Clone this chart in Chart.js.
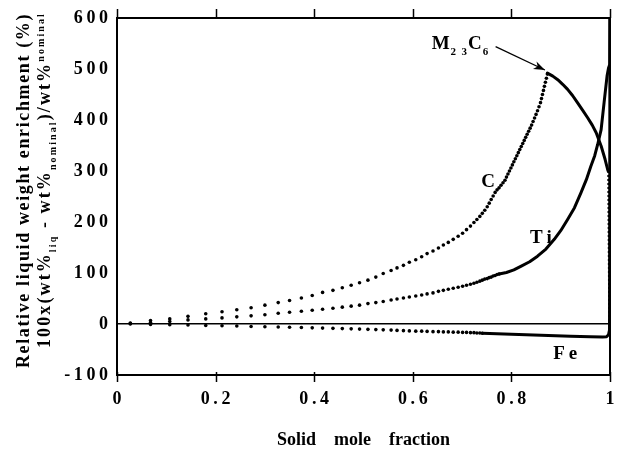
<!DOCTYPE html>
<html><head><meta charset="utf-8">
<script src="https://cdn.jsdelivr.net/npm/chart.js@4.4.1/dist/chart.umd.min.js"></script>
<style>html,body{margin:0;padding:0;background:#fff;}</style>
</head><body>
<canvas id="c" width="619" height="452"></canvas>
<script>
// ---- data ----
const xTickValues = [0, 0.2, 0.4, 0.6, 0.8, 1];
const yTickValues = [-100, 0, 100, 200, 300, 400, 500, 600];

// C : dotted part (liquid only), then solid after M23C6 forms, then dotted drop
const cDotX = [0.027,0.068,0.107,0.144,0.180,0.213,0.243,0.272,0.300,0.327,0.350,0.374,0.396,0.417,0.438,0.457,0.475,0.492,0.509,0.525,0.540,0.556,0.568,0.581,0.593,0.606,0.618,0.629,0.641,0.652,0.662,0.672,0.682,0.692,0.701,0.709,0.717,0.724,0.730,0.736,0.741,0.746,0.751,0.755,0.759,0.763,0.767,0.771,0.775,0.779,0.783,0.787,0.790,0.793,0.796,0.799,0.802,0.805,0.808,0.811,0.814,0.817,0.820,0.823,0.826,0.829,0.832,0.835,0.838,0.841,0.844,0.847,0.850,0.853,0.856,0.859,0.861,0.863,0.865,0.867,0.869,0.871,0.873];
const cDotY = [2,7,10,15,20,24,28,32,37,42,46,51,56,62,66,71,76,81,86,92,99,105,110,115,121,126,132,138,143,149,155,160,166,172,178,185,192,199,205,211,217,223,230,237,244,251,258,263,267,272,277,282,288,294,300,306,312,318,324,330,336,342,348,354,360,366,372,378,384,390,397,404,411,418,426,434,442,450,458,466,474,482,490];
const cSolidX = [0.873,0.884,0.894,0.904,0.914,0.924,0.934,0.944,0.955,0.964,0.972,0.982,0.990,0.996];
const cSolidY = [492,486,479,470,460,448,434,420,404,390,375,349,323,300];
const cDropX = [0.997,0.999];
const cDropY = [300,0];

// Ti
const tiDotX = [0.027,0.068,0.107,0.144,0.180,0.213,0.243,0.272,0.300,0.327,0.350,0.374,0.396,0.417,0.438,0.457,0.475,0.492,0.509,0.525,0.540,0.556,0.568,0.581,0.593,0.606,0.618,0.629,0.641,0.652,0.662,0.672,0.682,0.692,0.701,0.709,0.717,0.724,0.730,0.736,0.741,0.746,0.751,0.755,0.759,0.763,0.767,0.771,0.775];
const tiDotY = [1,3,5,8,10,12,14,16,18,21,23,25,27,29,31,33,35,37,40,42,44,47,49,51,53,55,57,59,61,64,66,68,70,72,74,76,78,80,82,84,86,88,89,91,92,94,95,97,98];
const tiSolidX = [0.775,0.790,0.805,0.819,0.837,0.853,0.870,0.887,0.900,0.914,0.928,0.941,0.952,0.961,0.969,0.975,0.982,0.988,0.994,0.997,0.9995,1.0];
const tiSolidY = [98,101,106,113,122,133,147,166,183,205,228,257,283,309,330,352,381,434,486,502,509,620];

// Fe
const feDotX = [0.027,0.068,0.107,0.144,0.180,0.213,0.243,0.272,0.300,0.327,0.350,0.374,0.396,0.417,0.438,0.457,0.475,0.492,0.509,0.525,0.540,0.556,0.568,0.581,0.593,0.606,0.618,0.629,0.641,0.652,0.662,0.672,0.682,0.692,0.701,0.709,0.717,0.724,0.730,0.736,0.741];
const feDotY = [0,-1,-1.5,-2,-3,-3.5,-4,-5,-5.5,-6,-6.5,-7,-7.5,-8,-8.5,-9,-9.5,-10,-10.5,-11,-11.5,-12,-12.5,-13,-13.5,-14,-14,-14.5,-15,-15,-15.5,-15.5,-16,-16,-16.5,-16.5,-17,-17,-17.5,-17.5,-18];
const feSolidX = [0.741,0.800,0.860,0.920,0.960,0.985,0.993,0.997,0.999,1.0];
const feSolidY = [-18,-20,-22,-24,-25,-25.5,-25,-21,-12,620];

// ---- chart ----
const FONT = 'Liberation Serif, Times New Roman, serif';
const spaced = s => s.split('').join('\u2009');
const pts = (xs, ys) => xs.map((v, i) => ({x: v, y: ys[i]}));
const dotStyle = {showLine:false, pointRadius:1.8, pointHoverRadius:1.8, pointBackgroundColor:'#000', pointBorderWidth:0, borderColor:'#000'};
const lineStyle = {showLine:true, pointRadius:0, pointHoverRadius:0, borderColor:'#000', borderWidth:3, tension:0, fill:false, borderJoinStyle:'round', borderCapStyle:'round'};

const annotate = {
  id: 'annotate',
  afterDraw(chart) {
    const ctx = chart.ctx, a = chart.chartArea;
    const xs = chart.scales.x, ys = chart.scales.y;
    ctx.save();
    // frame
    ctx.strokeStyle = '#000'; ctx.lineWidth = 2;
    ctx.strokeRect(a.left, a.top, a.right - a.left, a.bottom - a.top);
    // x tick marks on top and bottom edges
    ctx.lineWidth = 1.5;
    xTickValues.forEach(v => {
      const px = Math.round(xs.getPixelForValue(v)) + 0.5;
      ctx.beginPath(); ctx.moveTo(px, a.top); ctx.lineTo(px, a.top - 9); ctx.stroke();
      ctx.beginPath(); ctx.moveTo(px, a.bottom - 3); ctx.lineTo(px, a.bottom + 7); ctx.stroke();
    });
    ctx.fillStyle = '#000';
    ctx.textBaseline = 'alphabetic';
    const bold = sz => 'bold ' + sz + 'px ' + FONT;
    const P = (x, y) => [xs.getPixelForValue(x), ys.getPixelForValue(y)];
    // series labels
    ctx.font = bold(19); ctx.textAlign = 'center';
    let [lx, ly] = P(0.753, 283); ctx.fillText('C', lx, ly + 7);
    [lx, ly] = P(0.860, 172); ctx.fillText(spaced('Ti'), lx, ly + 7);
    [lx, ly] = P(0.909, -54); ctx.fillText(spaced('Fe'), lx, ly + 7);
    // M23C6 label
    const runs = [['M',19,0],['2',11,6],['\u2009\u20093',11,6],['C',19,0],['6',11,6]];
    ctx.textAlign = 'left';
    let total = 0;
    runs.forEach(r => { ctx.font = bold(r[1]); total += ctx.measureText(r[0]).width + 1; });
    let [mx, my] = P(0.755, 540);
    let cx = mx - total;
    runs.forEach(r => { ctx.font = bold(r[1]); ctx.fillText(r[0], cx, my + r[2]); cx += ctx.measureText(r[0]).width + 1; });
    // arrow to the C peak
    const [ax0, ay0] = P(0.768, 544), [ax1, ay1] = P(0.868, 498);
    ctx.lineWidth = 1.3;
    ctx.beginPath(); ctx.moveTo(ax0, ay0); ctx.lineTo(ax1, ay1); ctx.stroke();
    const ang = Math.atan2(ay1 - ay0, ax1 - ax0);
    ctx.beginPath();
    ctx.moveTo(ax1, ay1);
    ctx.lineTo(ax1 - 12 * Math.cos(ang - 0.35), ay1 - 12 * Math.sin(ang - 0.35));
    ctx.lineTo(ax1 - 8 * Math.cos(ang), ay1 - 8 * Math.sin(ang));
    ctx.lineTo(ax1 - 12 * Math.cos(ang + 0.35), ay1 - 12 * Math.sin(ang + 0.35));
    ctx.closePath(); ctx.fill();
    // y axis title (two lines, rotated)
    const drawRich = (segs, centerX, yBottom, yTop) => {
      ctx.save();
      ctx.translate(centerX, (yBottom + yTop) / 2);
      ctx.rotate(-Math.PI / 2);
      const target = yBottom - yTop;
      let nat = 0, nchar = 0;
      segs.forEach(s => { ctx.font = bold(s[1]); nat += ctx.measureText(s[0]).width; nchar += s[0].length; });
      const ls = Math.max(0, (target - nat) / nchar);
      let x = -target / 2;
      segs.forEach(s => {
        ctx.font = bold(s[1]);
        for (const ch of s[0]) {
          ctx.fillText(ch, x, s[2]);
          x += ctx.measureText(ch).width + ls;
        }
      });
      ctx.restore();
    };
    drawRich([['Relative liquid weight enrichment (%)',18,0]], 29, 368, 13);
    drawRich([['100x(wt%',18,0],['liq',10,6],[' - wt%',18,0],['nominal',10,6],[')/wt%',18,0],['nominal',10,-6]], 50, 348, 12);
    ctx.restore();
  }
};

new Chart(document.getElementById('c'), {
  type: 'scatter',
  data: {
    datasets: [
      {data: pts(cDotX, cDotY), ...dotStyle},
      {data: pts(cSolidX, cSolidY), ...lineStyle},
      {data: pts(cDropX, cDropY), ...lineStyle, borderWidth: 2.5, borderDash: [2, 2], borderCapStyle: 'butt'},
      {data: pts(tiDotX, tiDotY), ...dotStyle},
      {data: pts(tiSolidX, tiSolidY), ...lineStyle},
      {data: pts(feDotX, feDotY), ...dotStyle},
      {data: pts(feSolidX, feSolidY), ...lineStyle}
    ]
  },
  options: {
    responsive: false, animation: false, devicePixelRatio: 1,
    layout: {autoPadding: false, padding: {left: 0, right: 9, top: 18, bottom: 0}},
    plugins: {legend: {display: false}, tooltip: {enabled: false}},
    scales: {
      x: {
        type: 'linear', position: 'bottom', min: 0, max: 1,
        afterBuildTicks: s => { s.ticks = xTickValues.map(v => ({value: v})); },
        ticks: {callback: v => spaced(String(Math.round(v * 10) / 10)), color: '#000', padding: 14, maxRotation: 0, autoSkip: false,
                font: {family: FONT, weight: 'bold', size: 18}},
        grid: {display: false, drawTicks: false},
        border: {display: false},
        title: {display: true, text: 'Solid\u2003mole\u2003fraction', color: '#000',
                font: {family: FONT, weight: 'bold', size: 18}, padding: {top: 0, bottom: 1}},
        afterFit: s => { s.height = 77; s.paddingRight = 0; s.paddingLeft = 0; }
      },
      y: {
        type: 'linear', min: -100, max: 600,
        afterBuildTicks: s => { s.ticks = yTickValues.map(v => ({value: v})); },
        ticks: {callback: v => spaced(String(v)), color: '#000', padding: 9, autoSkip: false,
                font: {family: FONT, weight: 'bold', size: 18}},
        grid: {drawTicks: false, lineWidth: 1.5, color: c => (c.tick && c.tick.value === 0) ? '#000' : 'rgba(0,0,0,0)'},
        border: {display: false},
        afterFit: s => { s.width = 117; s.paddingTop = 0; s.paddingBottom = 0; }
      }
    }
  },
  plugins: [annotate]
});
</script>
</body></html>
